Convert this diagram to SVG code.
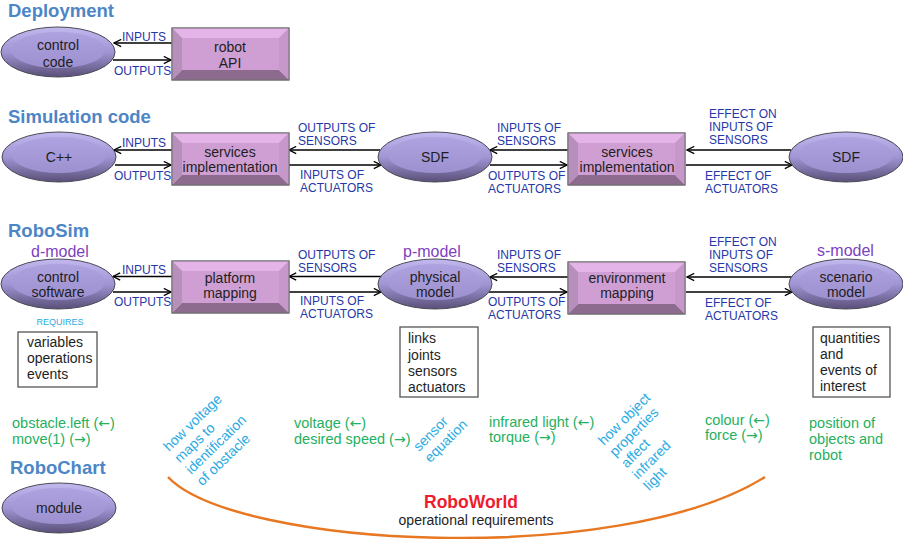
<svg xmlns="http://www.w3.org/2000/svg" xmlns:xlink="http://www.w3.org/1999/xlink" width="903" height="539" viewBox="0 0 903 539">
<style>
text{font-family:"Liberation Sans",Arial,sans-serif}
.title{font-size:18.5px;font-weight:bold;fill:#4d86c6}
.model{font-size:16px;fill:#7d3fbf}
.nt{font-size:14px;fill:#1e1e1e;text-anchor:middle}
.lb{font-size:12px;fill:#2637a8}
.bx{font-size:14px;fill:#1e1e1e}
.gr{font-size:14.5px;fill:#25b060}
.ar{font-family:"DejaVu Sans",sans-serif;font-size:14px}
.cy{font-size:14px;fill:#29abe2}
.req{font-size:9px;fill:#29abe2;text-anchor:middle}
.conn line{stroke:#000;stroke-width:1.3;marker-end:url(#ah)}
.note{fill:#fff;stroke:#555;stroke-width:1.3}
</style>
<defs>
<marker id="ah" viewBox="0 0 10 10" refX="9" refY="5" markerWidth="9" markerHeight="9" orient="auto" markerUnits="userSpaceOnUse">
<path d="M1,1 L9,5 L1,9" fill="none" stroke="#000" stroke-width="1.4"/>
</marker>
<linearGradient id="eg" x1="0" y1="0" x2="0" y2="1">
<stop offset="0" stop-color="#c2b8ee"/>
<stop offset="0.5" stop-color="#a195d4"/>
<stop offset="1" stop-color="#5a5079"/>
</linearGradient>
<linearGradient id="ef" x1="0" y1="0" x2="0" y2="1">
<stop offset="0" stop-color="#aea2e0"/>
<stop offset="1" stop-color="#9d90cf"/>
</linearGradient>
<g id="oval">
<ellipse cx="0" cy="0" rx="57" ry="25" fill="url(#eg)" stroke="#4a4a55" stroke-width="1"/>
<ellipse cx="0" cy="-2" rx="47" ry="18" fill="url(#ef)"/>
</g>
<g id="bbox">
<rect x="0" y="0" width="117" height="52" fill="#d0a1d4" stroke="#6e6e6e" stroke-width="1"/>
<polygon points="0,0 117,0 107,10 10,10" fill="#e4b4e9"/>
<polygon points="0,52 117,52 107,42 10,42" fill="#8c6b8e"/>
<polygon points="0,0 10,10 10,42 0,52" fill="#b78fbb"/>
<polygon points="117,0 107,10 107,42 117,52" fill="#c598c9"/>
<rect x="10" y="10" width="97" height="32" fill="#cf9fd3"/>
<rect x="0" y="0" width="117" height="52" fill="none" stroke="#6e6e6e" stroke-width="1"/>
</g>
</defs>
<rect width="903" height="539" fill="#fff"/>

<!-- section titles -->
<text class="title" x="8" y="17">Deployment</text>
<text class="title" x="8" y="123">Simulation code</text>
<text class="title" x="8" y="237">RoboSim</text>
<text class="title" x="10" y="474">RoboChart</text>

<!-- connectors -->
<g id="connectors" class="conn">
<line x1="172" y1="43" x2="114" y2="43"/>
<line x1="113" y1="60" x2="171" y2="60"/>
<line x1="172" y1="150" x2="114" y2="150"/>
<line x1="115" y1="165" x2="171" y2="165"/>
<line x1="380" y1="150" x2="289" y2="150"/>
<line x1="289" y1="165" x2="381" y2="165"/>
<line x1="568" y1="150" x2="490" y2="150"/>
<line x1="490" y1="165" x2="567" y2="165"/>
<line x1="791" y1="150" x2="687" y2="150"/>
<line x1="686" y1="165" x2="792" y2="165"/>
<line x1="172" y1="276.5" x2="113" y2="276.5"/>
<line x1="113" y1="292" x2="171" y2="292"/>
<line x1="381" y1="276.5" x2="289" y2="276.5"/>
<line x1="289" y1="292" x2="381" y2="292"/>
<line x1="568" y1="277" x2="490" y2="277"/>
<line x1="489" y1="292" x2="567" y2="292"/>
<line x1="792" y1="277" x2="687" y2="277"/>
<line x1="686" y1="292" x2="792" y2="292"/>
</g>

<!-- connector labels -->
<g id="labels">
<text class="lb" x="122" y="41">INPUTS</text>
<text class="lb" x="114" y="75">OUTPUTS</text>
<text class="lb" x="122" y="147">INPUTS</text>
<text class="lb" x="114" y="180">OUTPUTS</text>
<text class="lb" x="298" y="132">OUTPUTS OF</text>
<text class="lb" x="298" y="145">SENSORS</text>
<text class="lb" x="300" y="179">INPUTS OF</text>
<text class="lb" x="300" y="192">ACTUATORS</text>
<text class="lb" x="497" y="132">INPUTS OF</text>
<text class="lb" x="497" y="145">SENSORS</text>
<text class="lb" x="488" y="180">OUTPUTS OF</text>
<text class="lb" x="488" y="193">ACTUATORS</text>
<text class="lb" x="709" y="118">EFFECT ON</text>
<text class="lb" x="709" y="131">INPUTS OF</text>
<text class="lb" x="709" y="144">SENSORS</text>
<text class="lb" x="705" y="180">EFFECT OF</text>
<text class="lb" x="705" y="193">ACTUATORS</text>
<text class="lb" x="122" y="274">INPUTS</text>
<text class="lb" x="114" y="306">OUTPUTS</text>
<text class="lb" x="298" y="259">OUTPUTS OF</text>
<text class="lb" x="298" y="272">SENSORS</text>
<text class="lb" x="300" y="305">INPUTS OF</text>
<text class="lb" x="300" y="318">ACTUATORS</text>
<text class="lb" x="497" y="259">INPUTS OF</text>
<text class="lb" x="497" y="272">SENSORS</text>
<text class="lb" x="488" y="306">OUTPUTS OF</text>
<text class="lb" x="488" y="319">ACTUATORS</text>
<text class="lb" x="709" y="246">EFFECT ON</text>
<text class="lb" x="709" y="259">INPUTS OF</text>
<text class="lb" x="709" y="272">SENSORS</text>
<text class="lb" x="705" y="307">EFFECT OF</text>
<text class="lb" x="705" y="320">ACTUATORS</text>
</g>

<!-- Deployment -->
<g id="control-code"><use xlink:href="#oval" x="58" y="52"/><text class="nt" x="58" y="50">control</text><text class="nt" x="58" y="67">code</text></g>
<g id="robot-api"><use xlink:href="#bbox" x="172" y="28"/><text class="nt" x="230" y="52">robot</text><text class="nt" x="230" y="68">API</text></g>

<!-- Simulation code -->
<g id="cpp"><use xlink:href="#oval" x="59" y="157"/><text class="nt" x="59" y="162">C++</text></g>
<g id="services1"><use xlink:href="#bbox" x="172" y="133"/><text class="nt" x="230" y="157">services</text><text class="nt" x="230" y="172">implementation</text></g>
<g id="sdf1"><use xlink:href="#oval" x="435" y="157"/><text class="nt" x="435" y="162">SDF</text></g>
<g id="services2"><use xlink:href="#bbox" x="568" y="133"/><text class="nt" x="627" y="157">services</text><text class="nt" x="627" y="172">implementation</text></g>
<g id="sdf2"><use xlink:href="#oval" x="846" y="157"/><text class="nt" x="846" y="162">SDF</text></g>

<!-- RoboSim -->
<g id="d-model"><text class="model" x="31" y="257">d-model</text><use xlink:href="#oval" x="58" y="284"/><text class="nt" x="58" y="282">control</text><text class="nt" x="58" y="297">software</text></g>
<g id="platform"><use xlink:href="#bbox" x="172" y="261"/><text class="nt" x="230" y="283">platform</text><text class="nt" x="230" y="298">mapping</text></g>
<g id="p-model"><text class="model" x="403" y="257">p-model</text><use xlink:href="#oval" x="435" y="284"/><text class="nt" x="435" y="282">physical</text><text class="nt" x="435" y="297">model</text></g>
<g id="environment"><use xlink:href="#bbox" x="568" y="262"/><text class="nt" x="627" y="283">environment</text><text class="nt" x="627" y="298">mapping</text></g>
<g id="s-model"><text class="model" x="817" y="256">s-model</text><use xlink:href="#oval" x="846" y="284"/><text class="nt" x="846" y="282">scenario</text><text class="nt" x="846" y="297">model</text></g>

<!-- notes -->
<g id="requires-box">
<text class="req" x="60" y="325">REQUIRES</text>
<rect class="note" x="18" y="332" width="79" height="55"/>
<text class="bx" x="27" y="347">variables</text>
<text class="bx" x="27" y="363">operations</text>
<text class="bx" x="27" y="379">events</text>
</g>
<g id="links-box">
<rect class="note" x="400" y="327" width="78" height="70"/>
<text class="bx" x="408" y="343">links</text>
<text class="bx" x="408" y="359.5">joints</text>
<text class="bx" x="408" y="376">sensors</text>
<text class="bx" x="408" y="392">actuators</text>
</g>
<g id="quantities-box">
<rect class="note" x="813" y="327" width="77" height="70"/>
<text class="bx" x="820" y="343">quantities</text>
<text class="bx" x="820" y="359">and</text>
<text class="bx" x="820" y="375">events of</text>
<text class="bx" x="820" y="391">interest</text>
</g>

<!-- green examples -->
<g id="examples">
<text class="gr" x="12" y="428">obstacle.left (<tspan class="ar">←</tspan>)</text>
<text class="gr" x="12" y="444">move(1)  (<tspan class="ar">→</tspan>)</text>
<text class="gr" x="294" y="428">voltage (<tspan class="ar">←</tspan>)</text>
<text class="gr" x="294" y="444">desired speed (<tspan class="ar">→</tspan>)</text>
<text class="gr" x="489" y="427">infrared light (<tspan class="ar">←</tspan>)</text>
<text class="gr" x="489" y="442">torque (<tspan class="ar">→</tspan>)</text>
<text class="gr" x="705" y="425">colour (<tspan class="ar">←</tspan>)</text>
<text class="gr" x="705" y="440">force (<tspan class="ar">→</tspan>)</text>
<text class="gr" x="809" y="428">position of</text>
<text class="gr" x="809" y="444">objects and</text>
<text class="gr" x="809" y="460">robot</text>
</g>

<!-- rotated cyan notes -->
<g id="rotated">
<text class="cy" transform="translate(169,452) rotate(-44)"><tspan x="0" y="0">how voltage</tspan><tspan x="0" dy="16">maps to</tspan><tspan x="0" dy="16">identification</tspan><tspan x="0" dy="16">of obstacle</tspan></text>
<text class="cy" transform="translate(419,452) rotate(-45)"><tspan x="0" y="0">sensor</tspan><tspan x="0" dy="16">equation</tspan></text>
<text class="cy" transform="translate(604,446) rotate(-45)"><tspan x="0" y="0">how object</tspan><tspan x="0" dy="16">properties</tspan><tspan x="0" dy="16">affect</tspan><tspan x="0" dy="16">infrared</tspan><tspan x="0" dy="16">light</tspan></text>
</g>

<!-- RoboChart module -->
<g id="module"><use xlink:href="#oval" x="59" y="508"/><text class="nt" x="59" y="513">module</text></g>

<!-- RoboWorld -->
<g id="roboworld">
<path d="M168,477 C235,548 620,568 765,477" fill="none" stroke="#e87722" stroke-width="2.5"/>
<text x="471" y="508" text-anchor="middle" style="font-size:17.5px;font-weight:bold;fill:#ee1c2e">RoboWorld</text>
<text x="476" y="525" text-anchor="middle" style="font-size:14px;fill:#1e1e1e">operational requirements</text>
</g>
</svg>
